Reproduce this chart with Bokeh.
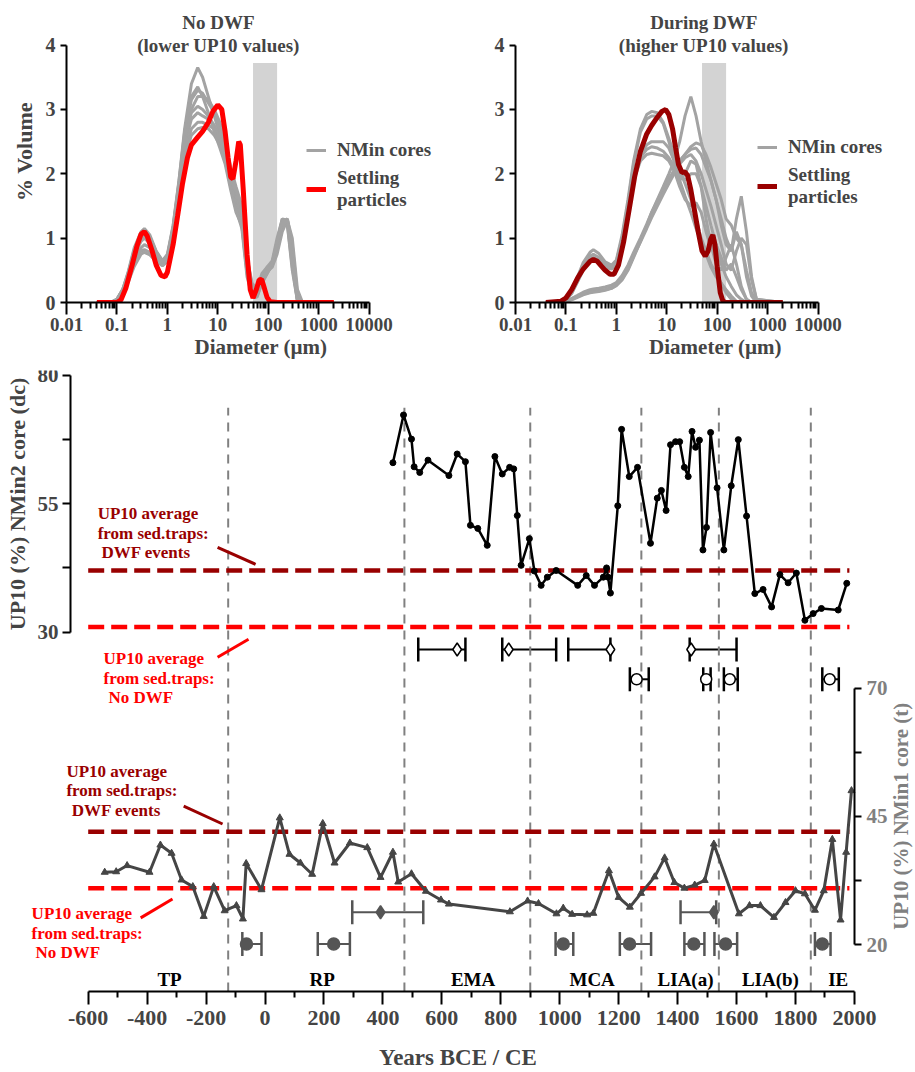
import math
from bokeh.plotting import figure
from bokeh.layouts import column, row
from bokeh.models import (Range1d, LinearAxis, FixedTicker, Legend, LegendItem, Label,
                          Whisker, TeeHead, ColumnDataSource, PrintfTickFormatter)
from bokeh.embed import file_html
from bokeh.resources import INLINE
from bokeh.core.properties import value

FONT = "Liberation Serif"
RED = "#ff0000"
DARKRED = "#990000"
GRAY_CURVE = "#a3a3a3"
NMIN1_COLOR = "#454545"

# ---------------- grain-size distributions (top panels) ----------------
diam = [0.04, 0.08, 0.1, 0.13, 0.17, 0.22, 0.3, 0.35, 0.45, 0.6, 0.8, 1.0, 1.3, 1.7, 2.2,
        3.0, 4.0, 5.0, 6.5, 8.5, 11, 14, 18, 23, 30, 38, 48, 60, 75, 95, 120, 150, 190,
        240, 300, 380, 480, 600, 2000]

nodwf_cores = [
    [0, 0.01, 0.05, 0.2, 0.5, 0.85, 1.1, 1.15, 1.05, 0.8, 0.65, 0.75, 1.2, 1.9, 2.7, 3.4, 3.65, 3.5, 3.2, 2.9, 2.6, 2.3, 1.9, 1.6, 1.3, 0.5, 0.15, 0.1, 0.3, 0.45, 0.6, 0.9, 1.25, 1.3, 0.7, 0.05, 0, 0, 0],
    [0, 0.01, 0.05, 0.2, 0.45, 0.8, 1.05, 1.1, 1.0, 0.78, 0.62, 0.7, 1.15, 1.85, 2.6, 3.15, 3.3, 3.25, 3.1, 2.95, 2.7, 2.4, 2.0, 1.7, 1.4, 0.6, 0.2, 0.12, 0.35, 0.5, 0.62, 0.95, 1.3, 1.28, 0.6, 0.03, 0, 0, 0],
    [0, 0.01, 0.04, 0.18, 0.42, 0.72, 0.95, 1.0, 0.92, 0.72, 0.6, 0.68, 1.1, 1.8, 2.5, 3.0, 3.2, 3.2, 3.15, 3.0, 2.8, 2.5, 2.1, 1.8, 1.5, 0.7, 0.25, 0.15, 0.4, 0.55, 0.65, 1.0, 1.3, 1.2, 0.5, 0.02, 0, 0, 0],
    [0, 0.01, 0.04, 0.16, 0.38, 0.65, 0.85, 0.9, 0.85, 0.7, 0.6, 0.68, 1.1, 1.75, 2.45, 2.85, 2.95, 2.9, 2.85, 2.75, 2.55, 2.3, 1.95, 1.6, 1.3, 0.55, 0.2, 0.15, 0.42, 0.52, 0.6, 0.85, 1.2, 1.25, 0.75, 0.08, 0, 0, 0],
    [0, 0.01, 0.04, 0.15, 0.35, 0.6, 0.8, 0.82, 0.78, 0.66, 0.58, 0.66, 1.05, 1.7, 2.35, 2.7, 2.8, 2.8, 2.75, 2.7, 2.55, 2.35, 2.05, 1.75, 1.45, 0.7, 0.3, 0.2, 0.45, 0.55, 0.6, 0.8, 1.15, 1.3, 0.9, 0.12, 0, 0, 0],
    [0, 0.01, 0.03, 0.14, 0.33, 0.56, 0.75, 0.78, 0.74, 0.64, 0.57, 0.64, 1.0, 1.62, 2.25, 2.6, 2.7, 2.72, 2.7, 2.6, 2.45, 2.2, 1.85, 1.5, 1.2, 0.45, 0.12, 0.1, 0.35, 0.48, 0.55, 0.75, 1.1, 1.28, 1.0, 0.2, 0, 0, 0],
    [0, 0.01, 0.05, 0.19, 0.44, 0.75, 1.0, 1.05, 0.97, 0.76, 0.63, 0.72, 1.15, 1.82, 2.55, 2.95, 3.05, 3.0, 2.9, 2.75, 2.5, 2.2, 1.8, 1.45, 1.15, 0.4, 0.1, 0.08, 0.3, 0.45, 0.58, 0.9, 1.28, 1.22, 0.55, 0.03, 0, 0, 0],
    [0, 0.01, 0.05, 0.2, 0.48, 0.82, 1.08, 1.12, 1.02, 0.79, 0.64, 0.73, 1.18, 1.88, 2.65, 3.2, 3.35, 3.2, 2.95, 2.65, 2.4, 2.15, 1.75, 1.4, 1.2, 0.5, 0.15, 0.12, 0.38, 0.5, 0.6, 0.92, 1.25, 1.25, 0.65, 0.05, 0, 0, 0],
]

nodwf_settle_x = [0.04, 0.1, 0.12, 0.15, 0.2, 0.25, 0.3, 0.35, 0.4, 0.5, 0.6, 0.75, 0.9, 1.0, 1.3,
                  1.6, 2.0, 2.5, 3.0, 4.0, 5.0, 6.5, 8.0, 10, 12, 14, 16, 18, 20, 23, 26, 28, 32,
                  38, 44, 50, 58, 66, 74, 84, 95, 110, 150, 2000]
nodwf_settle_y = [0, 0, 0.04, 0.22, 0.58, 0.88, 1.06, 1.1, 1.03, 0.8, 0.58, 0.42, 0.4, 0.47, 0.9,
                  1.35, 1.85, 2.25, 2.45, 2.57, 2.66, 2.8, 2.97, 3.07, 3.0, 2.65, 2.25, 1.95, 1.92,
                  2.2, 2.5, 2.45, 1.75, 0.75, 0.2, 0.07, 0.2, 0.35, 0.36, 0.22, 0.08, 0.01, 0, 0]

dwf_cores = [
    [0, 0.01, 0.05, 0.18, 0.4, 0.62, 0.78, 0.82, 0.76, 0.63, 0.58, 0.66, 1.05, 1.6, 2.2, 2.7, 2.92, 2.97, 2.95, 2.8, 2.55, 2.3, 2.05, 1.85, 1.6, 1.3, 1.0, 0.8, 0.6, 0.45, 0.3, 0.15, 0.05, 0, 0, 0, 0, 0, 0],
    [0, 0.01, 0.04, 0.16, 0.36, 0.56, 0.72, 0.75, 0.7, 0.6, 0.56, 0.64, 1.0, 1.55, 2.15, 2.65, 2.85, 2.9, 2.9, 2.78, 2.5, 2.2, 1.9, 1.65, 1.4, 1.15, 0.95, 0.75, 0.55, 0.4, 0.3, 0.2, 0.1, 0.02, 0, 0, 0, 0, 0],
    [0, 0.01, 0.04, 0.15, 0.34, 0.53, 0.68, 0.7, 0.66, 0.57, 0.54, 0.6, 0.95, 1.45, 1.95, 2.3, 2.45, 2.5, 2.5, 2.5, 2.4, 2.2, 2.0, 1.9, 2.0, 2.0, 1.8, 1.5, 1.2, 0.9, 0.6, 0.4, 0.25, 0.12, 0.05, 0, 0, 0, 0],
    [0, 0.01, 0.04, 0.14, 0.32, 0.5, 0.64, 0.66, 0.63, 0.55, 0.52, 0.58, 0.9, 1.4, 1.9, 2.2, 2.3, 2.32, 2.3, 2.28, 2.2, 2.05, 1.8, 1.6, 1.5, 1.55, 1.4, 1.1, 0.85, 0.9, 0.7, 0.5, 0.6, 0.4, 0.2, 0.05, 0, 0, 0],
    [0, 0.01, 0.04, 0.15, 0.33, 0.52, 0.66, 0.68, 0.65, 0.56, 0.53, 0.6, 0.92, 1.42, 1.92, 2.25, 2.38, 2.42, 2.4, 2.35, 2.25, 2.1, 1.9, 2.0, 2.2, 2.15, 1.8, 1.3, 0.9, 0.6, 0.5, 0.7, 0.9, 0.6, 0.25, 0.05, 0, 0, 0],
    [0, 0, 0.02, 0.06, 0.1, 0.14, 0.17, 0.18, 0.19, 0.2, 0.22, 0.26, 0.35, 0.5, 0.7, 0.95, 1.2, 1.4, 1.6, 1.8, 2.0, 2.2, 2.5, 2.9, 3.2, 2.9, 2.5, 2.2, 1.9, 1.6, 1.3, 1.0, 0.8, 1.1, 0.9, 0.4, 0.1, 0, 0],
    [0, 0, 0.02, 0.06, 0.11, 0.16, 0.2, 0.21, 0.22, 0.24, 0.27, 0.31, 0.42, 0.58, 0.78, 1.0, 1.22, 1.4, 1.58, 1.75, 1.92, 2.05, 2.2, 2.3, 2.42, 2.48, 2.45, 2.3, 2.1, 1.85, 1.6, 1.3, 1.2, 1.0, 0.9, 0.5, 0.15, 0.02, 0],
    [0, 0, 0.02, 0.05, 0.09, 0.13, 0.16, 0.17, 0.18, 0.2, 0.23, 0.28, 0.38, 0.54, 0.74, 0.96, 1.18, 1.36, 1.54, 1.72, 1.9, 2.05, 2.2, 2.3, 2.38, 2.4, 2.3, 2.1, 1.9, 1.6, 1.2, 0.9, 0.8, 1.3, 1.65, 1.1, 0.4, 0.05, 0],
    [0, 0, 0.01, 0.04, 0.08, 0.12, 0.15, 0.16, 0.17, 0.19, 0.22, 0.27, 0.37, 0.52, 0.72, 0.94, 1.15, 1.32, 1.5, 1.68, 1.85, 2.0, 2.15, 2.25, 2.3, 2.2, 2.0, 1.75, 1.5, 1.2, 0.9, 0.6, 0.5, 0.8, 1.0, 0.9, 0.35, 0.05, 0],
]

dwf_settle_x = [0.04, 0.08, 0.1, 0.13, 0.17, 0.22, 0.3, 0.35, 0.42, 0.5, 0.6, 0.75, 0.9, 1.1, 1.4,
                1.8, 2.3, 3.0, 4.0, 5.0, 6.5, 8.0, 9.5, 11, 13, 15, 17, 20, 23, 26, 30, 36, 42,
                50, 58, 66, 74, 82, 90, 100, 115, 130, 150, 2000]
dwf_settle_y = [0, 0.02, 0.07, 0.2, 0.38, 0.52, 0.64, 0.67, 0.64, 0.57, 0.5, 0.44, 0.44, 0.58, 0.95,
                1.45, 1.95, 2.35, 2.62, 2.75, 2.88, 2.97, 3.0, 2.92, 2.7, 2.4, 2.15, 2.02, 2.03,
                1.97, 1.75, 1.4, 1.1, 0.8, 0.72, 0.8, 0.98, 1.05, 0.9, 0.55, 0.15, 0.02, 0, 0]

band_lo, band_hi, band_top = 50, 150, 3.72

# ---------------- time series ----------------
nmin2_year = [434, 470, 497, 506, 525, 553, 624, 652, 680, 697, 722, 754, 780, 805, 830, 844, 856,
              869, 897, 914, 937, 958, 988, 1061, 1090, 1118, 1148, 1159, 1164, 1172, 1197, 1210,
              1236, 1264, 1308, 1331, 1345, 1361, 1376, 1393, 1407, 1423, 1436, 1449, 1461, 1474,
              1486, 1498, 1512, 1534, 1557, 1582, 1606, 1634, 1662, 1690, 1719, 1747, 1775, 1803,
              1832, 1860, 1888, 1945, 1974]
nmin2_up10 = [63.0, 72.3, 67.6, 62.2, 61.1, 63.5, 60.5, 64.7, 63.2, 50.8, 50.2, 46.9, 64.2, 60.8,
              62.1, 61.8, 52.7, 43.0, 48.2, 41.9, 39.1, 40.7, 42.0, 39.1, 41.0, 39.1, 40.7, 42.5,
              40.7, 37.6, 54.6, 69.5, 60.3, 62.1, 47.3, 56.1, 57.6, 53.7, 66.5, 67.1, 67.1, 62.1,
              60.3, 69.1, 66.0, 67.4, 46.0, 50.4, 68.9, 58.1, 46.0, 58.5, 67.5, 52.6, 37.5, 38.3,
              34.9, 41.2, 39.6, 41.5, 32.3, 33.6, 34.6, 34.3, 39.5]

nmin1_year = [-544, -505, -468, -392, -355, -317, -283, -245, -208, -174, -137, -97, -75, -64, -12,
              50, 83, 120, 160, 196, 236, 288, 347, 392, 434, 452, 497, 546, 597, 624, 831, 891,
              928, 989, 1012, 1042, 1093, 1114, 1167, 1200, 1238, 1276, 1322, 1356, 1389, 1423,
              1458, 1492, 1523, 1608, 1644, 1681, 1727, 1766, 1800, 1832, 1866, 1896, 1925, 1953,
              1972, 1990]
nmin1_up10 = [34.1, 34.2, 35.4, 34.1, 39.4, 37.8, 32.6, 31.3, 25.5, 31.3, 26.6, 27.6, 25.0, 35.8,
              30.7, 44.7, 37.6, 35.9, 33.7, 43.6, 35.9, 39.8, 38.9, 33.1, 38.0, 32.2, 33.8, 30.4,
              28.7, 27.9, 26.4, 28.5, 28.0, 26.0, 27.1, 25.9, 25.8, 26.1, 34.4, 29.2, 27.3, 30.0,
              33.2, 36.9, 32.1, 31.0, 31.6, 32.5, 39.6, 26.0, 27.6, 27.6, 25.3, 28.2, 30.5, 29.9,
              26.7, 30.5, 40.5, 24.8, 38.0, 50.0]

up10_trap_dwf = 42.0
up10_trap_nodwf = 31.0

# age-model dates (years): lower, upper, central
nmin2_dates_a_lo = [520, 805, 1029, 1441]
nmin2_dates_a_hi = [680, 988, 1172, 1600]
nmin2_dates_a_mid = [652, 827, 1172, 1446]
nmin2_dates_b_lo = [1238, 1487, 1557, 1891]
nmin2_dates_b_hi = [1302, 1512, 1604, 1947]
nmin2_dates_b_mid = [1261, 1497, 1577, 1916]
nmin1_dates_a_lo = [296, 1410]
nmin1_dates_a_hi = [537, 1531]
nmin1_dates_a_mid = [392, 1523]
nmin1_dates_b_lo = [-77, 179, 986, 1204, 1423, 1525, 1866]
nmin1_dates_b_hi = [-12, 288, 1046, 1310, 1491, 1602, 1919]
nmin1_dates_b_mid = [-63, 233, 1012, 1237, 1455, 1563, 1891]

period_bounds = [-125, 473, 900, 1277, 1540, 1852]
period_names = ["TP", "RP", "EMA", "MCA", "LIA(a)", "LIA(b)", "IE"]
period_mid = [-324, 194, 706, 1110, 1427, 1715, 1945]

x_ticks = list(range(-600, 2001, 200))
x_minor = list(range(-500, 2000, 200))

# ---------------- helpers ----------------
PX_PER_DEC = 50.43
TOP_H = 363
TOP_BOTTOM = 61


def style_axis(ax, tick_size, label_size):
    ax.major_label_text_font = FONT
    ax.major_label_text_font_style = "bold"
    ax.major_label_text_font_size = tick_size
    ax.axis_label_text_font = FONT
    ax.axis_label_text_font_style = "bold"
    ax.axis_label_text_font_size = label_size
    ax.axis_line_width = 2
    ax.major_tick_line_width = 2
    ax.minor_tick_line_width = 2
    ax.major_tick_in = 0
    ax.minor_tick_in = 0


def gsd_panel(width, left_border, titles, cores, sx, sy, scolor, ylabel, leg_pos):
    frame_w = width - left_border
    frame_h = TOP_H - TOP_BOTTOM
    decades = frame_w / PX_PER_DEC
    p = figure(width=width, height=TOP_H, x_axis_type="log",
               x_range=Range1d(0.01, 10 ** (-2 + decades)),
               y_range=Range1d(0, frame_h / 64.35),
               output_backend="svg", toolbar_location=None,
               min_border_left=left_border, min_border_right=0,
               min_border_top=0, min_border_bottom=TOP_BOTTOM)
    p.grid.visible = False
    p.outline_line_color = None
    p.quad(left=[band_lo], right=[band_hi], bottom=[0], top=[band_top],
           fill_color="#d3d3d3", line_color=None)
    gr = p.multi_line(xs=[diam] * len(cores), ys=cores, line_color=GRAY_CURVE, line_width=3)
    sr = p.line(sx, sy, line_color=scolor, line_width=5)

    ax = p.xaxis[0]
    style_axis(ax, "19px", "21px")
    ax.bounds = (0.01, 10000)
    decs = [0.01, 0.1, 1, 10, 100, 1000, 10000]
    minors = [d * k for d in decs[:-1] for k in range(2, 10)]
    ax.ticker = FixedTicker(ticks=decs, minor_ticks=minors)
    ax.formatter = PrintfTickFormatter(format="%g")
    ax.major_tick_out = 12
    ax.minor_tick_out = 6
    ax.major_label_standoff = 3
    ax.axis_label_standoff = 1
    ax.axis_label = "Diameter (µm)"

    ay = p.yaxis[0]
    style_axis(ay, "20px", "22px")
    ay.bounds = (0, 4)
    ay.ticker = FixedTicker(ticks=[0, 1, 2, 3, 4], minor_ticks=[])
    ay.major_tick_out = 6
    ay.major_label_standoff = 5
    if ylabel:
        ay.axis_label = ylabel
        ay.axis_label_standoff = 6

    tx = titles[0]
    for txt, yv in ((titles[1], 4.35), (titles[2], 4.0)):
        p.add_layout(Label(x=tx, y=yv, text=txt, text_align="center", text_baseline="middle",
                           text_font=FONT, text_font_style="bold", text_font_size="19px"))

    leg = Legend(items=[LegendItem(label="NMin cores", renderers=[gr]),
                        LegendItem(label="Settling\nparticles", renderers=[sr])],
                 location=leg_pos, border_line_color=None, background_fill_alpha=0,
                 padding=0, margin=0, spacing=6, glyph_width=20, glyph_height=20,
                 label_height=20, label_standoff=11,
                 label_text_font=FONT, label_text_font_style="bold",
                 label_text_font_size="19px")
    p.add_layout(leg)
    return p


p1 = gsd_panel(455, 66, (10.3, "No DWF", "(lower UP10 values)"), nodwf_cores,
               nodwf_settle_x, nodwf_settle_y, RED, "% Volume", (240, 91))
p2 = gsd_panel(460, 60, (54.2, "During DWF", "(higher UP10 values)"), dwf_cores,
               dwf_settle_x, dwf_settle_y, DARKRED, None, (242, 94))

# ---------------- time-series figure ----------------
H3 = 1072 - TOP_H
PX_PER_YEAR = 0.2947
X_START = -600 - 87.7 / PX_PER_YEAR
X_END = X_START + 915 / PX_PER_YEAR
L_START, L_END = -40.04, 80.97
R_START, R_END = 10.86, 131.87
p3 = figure(width=915, height=H3, x_range=Range1d(X_START, X_END), y_range=Range1d(L_START, L_END),
            output_backend="svg", toolbar_location=None,
            min_border_left=0, min_border_right=0, min_border_top=7, min_border_bottom=80)
p3.extra_y_ranges = {"right": Range1d(R_START, R_END)}
p3.grid.visible = False
p3.outline_line_color = None

# period boundaries
nb = len(period_bounds)
p3.segment(x0=period_bounds, y0=[L_START] * nb, x1=period_bounds, y1=[73.7] * nb,
           line_color="#808080", line_width=2, line_dash="9 7")

# sediment-trap averages
p3.segment(x0=[-600, -600], x1=[1983, 1983], y0=[up10_trap_dwf, up10_trap_nodwf],
           y1=[up10_trap_dwf, up10_trap_nodwf], line_color=[DARKRED, RED],
           line_width=4.5, line_dash="16 7")
p3.segment(x0=[-600, -600], x1=[1983, 1983], y0=[up10_trap_dwf, up10_trap_nodwf],
           y1=[up10_trap_dwf, up10_trap_nodwf], line_color=[DARKRED, RED],
           line_width=4.5, line_dash="16 7", y_range_name="right")

# pointer lines of the annotations
p3.segment(x0=[-161, -161, -276, -422], y0=[46.5, 25.1, -3.9, -25.7],
           x1=[-32, -56, -144, -314], y1=[43.2, 28.6, -7.4, -22.0],
           line_color=[DARKRED, RED, DARKRED, RED], line_width=3)

# series
p3.line(nmin2_year, nmin2_up10, line_color="black", line_width=2.5)
p3.scatter(nmin2_year, nmin2_up10, marker="circle", size=6, color="black")
p3.line(nmin1_year, nmin1_up10, line_color=NMIN1_COLOR, line_width=3, y_range_name="right")
p3.scatter(nmin1_year, nmin1_up10, marker="triangle", size=7, color=NMIN1_COLOR,
           y_range_name="right")


def date_bars(lo, hi, mid, level, color, marker, fill, msize):
    src = ColumnDataSource(dict(lo=lo, hi=hi, y=[level] * len(lo)))
    head = dict(size=24, line_color=color, line_width=2.5)
    p3.add_layout(Whisker(source=src, base="y", lower="lo", upper="hi", dimension="width",
                          line_color=color, line_width=2,
                          upper_head=TeeHead(**head), lower_head=TeeHead(**head)))
    p3.scatter(mid, [level] * len(mid), marker=marker, size=msize, fill_color=fill,
               line_color=color, line_width=1.5)


date_bars(nmin2_dates_a_lo, nmin2_dates_a_hi, nmin2_dates_a_mid, 26.6, "black", "diamond", "white", 13)
date_bars(nmin2_dates_b_lo, nmin2_dates_b_hi, nmin2_dates_b_mid, 20.8, "black", "circle", "white", 11)
date_bars(nmin1_dates_a_lo, nmin1_dates_a_hi, nmin1_dates_a_mid, -24.6, "#555555", "diamond", "#555555", 13)
date_bars(nmin1_dates_b_lo, nmin1_dates_b_hi, nmin1_dates_b_mid, -30.8, "#555555", "circle", "#555555", 12)

# period names
p3.text(x=period_mid, y=[-37.7] * len(period_mid), text=period_names, text_align="center",
        text_baseline="middle", text_font=value(FONT), text_font_style="bold",
        text_font_size="19px", text_color="black")

# annotation texts
ann = [
    (-568, 53.1, "UP10 average", DARKRED), (-568, 49.2, "from sed.traps:", DARKRED),
    (-555, 45.5, "DWF events", DARKRED),
    (-548, 24.9, "UP10 average", RED), (-548, 21.0, "from sed.traps:", RED),
    (-531, 17.3, "No DWF", RED),
    (-674, 2.9, "UP10 average", DARKRED), (-674, -0.9, "from sed.traps:", DARKRED),
    (-656, -4.7, "DWF events", DARKRED),
    (-792, -24.9, "UP10 average", RED), (-792, -28.8, "from sed.traps:", RED),
    (-779, -32.5, "No DWF", RED),
]
for ax_, ay_, t, c in ann:
    p3.add_layout(Label(x=ax_, y=ay_, text=t, text_color=c, text_font=FONT,
                        text_font_style="bold", text_font_size="17px",
                        text_baseline="middle", text_align="left"))

# axes
xa = p3.xaxis[0]
style_axis(xa, "22px", "23px")
xa.bounds = (-600, 2000)
xa.ticker = FixedTicker(ticks=x_ticks, minor_ticks=x_minor)
xa.formatter = PrintfTickFormatter(format="%d")
xa.major_tick_out = 13
xa.minor_tick_out = 6
xa.major_label_standoff = 6
xa.axis_label_standoff = 17
xa.axis_label = "Years BCE / CE"

ya = p3.yaxis[0]
style_axis(ya, "21px", "22px")
ya.fixed_location = -660
ya.bounds = (30, 80)
ya.ticker = FixedTicker(ticks=[30, 55, 80], minor_ticks=[42.5, 67.5])
ya.major_tick_out = 8
ya.minor_tick_out = 8
ya.major_label_standoff = 4
ya.axis_label_standoff = 5
ya.axis_label = "UP10 (%) NMin2 core (dc)"

ra = LinearAxis(y_range_name="right", fixed_location=2000)
style_axis(ra, "21px", "22px")
ra.bounds = (20, 70)
ra.ticker = FixedTicker(ticks=[20, 45, 70], minor_ticks=[32.5, 57.5])
ra.major_tick_out = 7
ra.minor_tick_out = 7
ra.major_label_standoff = 5
ra.major_label_text_color = "#808080"
p3.add_layout(ra, "right")

# right-axis title, read bottom-to-top as in the reference
p3.add_layout(Label(x=2000 + 47 / PX_PER_YEAR, y=45, y_range_name="right",
                    text="UP10 (%) NMin1 core (t)", text_color="#808080", text_font=FONT,
                    text_font_style="bold", text_font_size="21px", angle=math.pi / 2,
                    text_align="center", text_baseline="middle"))

layout = column(row(p1, p2), p3)
open("out.html", "w").write(file_html(layout, INLINE))
